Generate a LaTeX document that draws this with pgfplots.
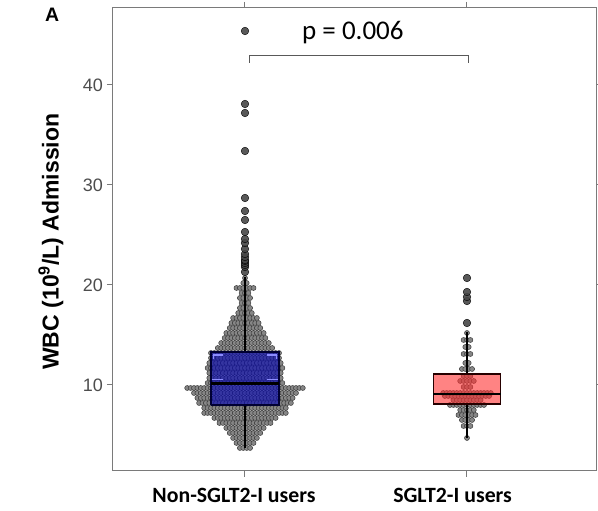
\documentclass[border=0pt]{standalone}
\usepackage{fontspec}
\setmainfont{Liberation Sans}
\newfontfamily\calibri{Carlito}
\usepackage{pgfplots}
\pgfplotsset{compat=1.18}
\definecolor{tickgray}{HTML}{4D4D4D}
\definecolor{framegray}{HTML}{7A7A7A}
\definecolor{dotfill}{HTML}{868686}
\definecolor{dotedge}{HTML}{3A3A3A}
\definecolor{nonbox}{HTML}{0000B4}
\definecolor{nonhigh}{HTML}{8C8CFF}
\definecolor{sgltbox}{HTML}{FF3030}

\begin{document}
\begin{tikzpicture}[x=1pt,y=1pt]
\useasboundingbox (-113,-40) rectangle (485,471);
\begin{axis}[
  name=ax, at={(0,0)}, anchor=south west,
  width=484pt, height=463pt, scale only axis,
  xmin=0.4054, xmax=2.5856, ymin=1.4, ymax=47.7,
  clip=false, clip marker paths=true,
  axis line style={framegray, line width=1pt},
  tick style={framegray, line width=1pt},
  tick align=outside, major tick length=6pt,
  xtick={1,2}, xticklabels={},
  ytick={10,20,30,40},
  /pgf/number format/assume math mode=true,
  yticklabel style={font=\fontsize{18}{18}\selectfont, text=tickgray, anchor=east, inner sep=0pt, xshift=-4pt},
]

% beeswarm of individual patients, non-SGLT2-I users (x in half dot spacings)
\addplot[only marks, mark=*, mark size=2.5pt,
  mark options={fill=dotfill, draw=dotedge, line width=0.5pt},
  x filter/.expression={1+0.00766*x}] coordinates {
(-3,3.7)(-1,3.7)(1,3.7)(3,3.7)
(-5,4.2)(-3,4.2)(-1,4.2)(1,4.2)(3,4.2)(5,4.2)
(-7,4.7)(-5,4.7)(-3,4.7)(-1,4.7)(1,4.7)(3,4.7)(5,4.7)(7,4.7)
(-9,5.2)(-7,5.2)(-5,5.2)(-3,5.2)(-1,5.2)(1,5.2)(3,5.2)(5,5.2)(7,5.2)(9,5.2)
(-11,5.7)(-9,5.7)(-7,5.7)(-5,5.7)(-3,5.7)(-1,5.7)(1,5.7)(3,5.7)(5,5.7)(7,5.7)(9,5.7)(11,5.7)
(-15,6.2)(-13,6.2)(-11,6.2)(-9,6.2)(-7,6.2)(-5,6.2)(-3,6.2)(-1,6.2)(1,6.2)(3,6.2)(5,6.2)(7,6.2)(9,6.2)(11,6.2)(13,6.2)(15,6.2)
(-18,6.7)(-16,6.7)(-14,6.7)(-12,6.7)(-10,6.7)(-8,6.7)(-6,6.7)(-4,6.7)(-2,6.7)(0,6.7)(2,6.7)(4,6.7)(6,6.7)(8,6.7)(10,6.7)(12,6.7)(14,6.7)(16,6.7)(18,6.7)
(-24,7.2)(-22,7.2)(-20,7.2)(-18,7.2)(-16,7.2)(-14,7.2)(-12,7.2)(-10,7.2)(-8,7.2)(-6,7.2)(-4,7.2)(-2,7.2)(0,7.2)(2,7.2)(4,7.2)(6,7.2)(8,7.2)(10,7.2)(12,7.2)(14,7.2)(16,7.2)(18,7.2)(20,7.2)(22,7.2)(24,7.2)
(-24,7.7)(-22,7.7)(-20,7.7)(-18,7.7)(-16,7.7)(-14,7.7)(-12,7.7)(-10,7.7)(-8,7.7)(-6,7.7)(-4,7.7)(-2,7.7)(0,7.7)(2,7.7)(4,7.7)(6,7.7)(8,7.7)(10,7.7)(12,7.7)(14,7.7)(16,7.7)(18,7.7)(20,7.7)(22,7.7)(24,7.7)
(-27,8.2)(-25,8.2)(-23,8.2)(-21,8.2)(-19,8.2)(-17,8.2)(-15,8.2)(-13,8.2)(-11,8.2)(-9,8.2)(-7,8.2)(-5,8.2)(-3,8.2)(-1,8.2)(1,8.2)(3,8.2)(5,8.2)(7,8.2)(9,8.2)(11,8.2)(13,8.2)(15,8.2)(17,8.2)(19,8.2)(21,8.2)(23,8.2)(25,8.2)(27,8.2)
(-28,8.7)(-26,8.7)(-24,8.7)(-22,8.7)(-20,8.7)(-18,8.7)(-16,8.7)(-14,8.7)(-12,8.7)(-10,8.7)(-8,8.7)(-6,8.7)(-4,8.7)(-2,8.7)(0,8.7)(2,8.7)(4,8.7)(6,8.7)(8,8.7)(10,8.7)(12,8.7)(14,8.7)(16,8.7)(18,8.7)(20,8.7)(22,8.7)(24,8.7)(26,8.7)(28,8.7)
(-30,9.2)(-28,9.2)(-26,9.2)(-24,9.2)(-22,9.2)(-20,9.2)(-18,9.2)(-16,9.2)(-14,9.2)(-12,9.2)(-10,9.2)(-8,9.2)(-6,9.2)(-4,9.2)(-2,9.2)(0,9.2)(2,9.2)(4,9.2)(6,9.2)(8,9.2)(10,9.2)(12,9.2)(14,9.2)(16,9.2)(18,9.2)(20,9.2)(22,9.2)(24,9.2)(26,9.2)(28,9.2)(30,9.2)
(-34,9.7)(-32,9.7)(-30,9.7)(-28,9.7)(-26,9.7)(-24,9.7)(-22,9.7)(-20,9.7)(-18,9.7)(-16,9.7)(-14,9.7)(-12,9.7)(-10,9.7)(-8,9.7)(-6,9.7)(-4,9.7)(-2,9.7)(0,9.7)(2,9.7)(4,9.7)(6,9.7)(8,9.7)(10,9.7)(12,9.7)(14,9.7)(16,9.7)(18,9.7)(20,9.7)(22,9.7)(24,9.7)(26,9.7)(28,9.7)(30,9.7)(32,9.7)(34,9.7)
(-22,10.2)(-20,10.2)(-18,10.2)(-16,10.2)(-14,10.2)(-12,10.2)(-10,10.2)(-8,10.2)(-6,10.2)(-4,10.2)(-2,10.2)(0,10.2)(2,10.2)(4,10.2)(6,10.2)(8,10.2)(10,10.2)(12,10.2)(14,10.2)(16,10.2)(18,10.2)(20,10.2)(22,10.2)
(-21,10.7)(-19,10.7)(-17,10.7)(-15,10.7)(-13,10.7)(-11,10.7)(-9,10.7)(-7,10.7)(-5,10.7)(-3,10.7)(-1,10.7)(1,10.7)(3,10.7)(5,10.7)(7,10.7)(9,10.7)(11,10.7)(13,10.7)(15,10.7)(17,10.7)(19,10.7)(21,10.7)
(-21,11.2)(-19,11.2)(-17,11.2)(-15,11.2)(-13,11.2)(-11,11.2)(-9,11.2)(-7,11.2)(-5,11.2)(-3,11.2)(-1,11.2)(1,11.2)(3,11.2)(5,11.2)(7,11.2)(9,11.2)(11,11.2)(13,11.2)(15,11.2)(17,11.2)(19,11.2)(21,11.2)
(-22,11.7)(-20,11.7)(-18,11.7)(-16,11.7)(-14,11.7)(-12,11.7)(-10,11.7)(-8,11.7)(-6,11.7)(-4,11.7)(-2,11.7)(0,11.7)(2,11.7)(4,11.7)(6,11.7)(8,11.7)(10,11.7)(12,11.7)(14,11.7)(16,11.7)(18,11.7)(20,11.7)(22,11.7)
(-21,12.2)(-19,12.2)(-17,12.2)(-15,12.2)(-13,12.2)(-11,12.2)(-9,12.2)(-7,12.2)(-5,12.2)(-3,12.2)(-1,12.2)(1,12.2)(3,12.2)(5,12.2)(7,12.2)(9,12.2)(11,12.2)(13,12.2)(15,12.2)(17,12.2)(19,12.2)(21,12.2)
(-20,12.7)(-18,12.7)(-16,12.7)(-14,12.7)(-12,12.7)(-10,12.7)(-8,12.7)(-6,12.7)(-4,12.7)(-2,12.7)(0,12.7)(2,12.7)(4,12.7)(6,12.7)(8,12.7)(10,12.7)(12,12.7)(14,12.7)(16,12.7)(18,12.7)(20,12.7)
(-20,13.2)(-18,13.2)(-16,13.2)(-14,13.2)(-12,13.2)(-10,13.2)(-8,13.2)(-6,13.2)(-4,13.2)(-2,13.2)(0,13.2)(2,13.2)(4,13.2)(6,13.2)(8,13.2)(10,13.2)(12,13.2)(14,13.2)(16,13.2)(18,13.2)(20,13.2)
(-16,13.7)(-14,13.7)(-12,13.7)(-10,13.7)(-8,13.7)(-6,13.7)(-4,13.7)(-2,13.7)(0,13.7)(2,13.7)(4,13.7)(6,13.7)(8,13.7)(10,13.7)(12,13.7)(14,13.7)(16,13.7)
(-14,14.2)(-12,14.2)(-10,14.2)(-8,14.2)(-6,14.2)(-4,14.2)(-2,14.2)(0,14.2)(2,14.2)(4,14.2)(6,14.2)(8,14.2)(10,14.2)(12,14.2)(14,14.2)
(-12,14.7)(-10,14.7)(-8,14.7)(-6,14.7)(-4,14.7)(-2,14.7)(0,14.7)(2,14.7)(4,14.7)(6,14.7)(8,14.7)(10,14.7)(12,14.7)
(-11,15.2)(-9,15.2)(-7,15.2)(-5,15.2)(-3,15.2)(-1,15.2)(1,15.2)(3,15.2)(5,15.2)(7,15.2)(9,15.2)(11,15.2)
(-9,15.7)(-7,15.7)(-5,15.7)(-3,15.7)(-1,15.7)(1,15.7)(3,15.7)(5,15.7)(7,15.7)(9,15.7)
(-8,16.2)(-6,16.2)(-4,16.2)(-2,16.2)(0,16.2)(2,16.2)(4,16.2)(6,16.2)(8,16.2)
(-7,16.7)(-5,16.7)(-3,16.7)(-1,16.7)(1,16.7)(3,16.7)(5,16.7)(7,16.7)
(-4,17.2)(-2,17.2)(0,17.2)(2,17.2)(4,17.2)
(-3,17.7)(-1,17.7)(1,17.7)(3,17.7)
(-2,18.2)(0,18.2)(2,18.2)
(-3,18.7)(-1,18.7)(1,18.7)(3,18.7)
(-2,19.2)(0,19.2)(2,19.2)
(-5,19.7)(-3,19.7)(-1,19.7)(1,19.7)(3,19.7)(5,19.7)
(-1,20.2)(1,20.2)
(0,20.7)
};

% beeswarm of individual patients, SGLT2-I users
\addplot[only marks, mark=*, mark size=2.5pt,
  mark options={fill=dotfill, draw=dotedge, line width=0.5pt},
  x filter/.expression={2+0.00766*x}] coordinates {
(0,4.7)
(-2,5.9)(0,5.9)(2,5.9)
(-3,6.5)(-1,6.5)(1,6.5)(3,6.5)
(-5,7.0)(-3,7.0)(-1,7.0)(1,7.0)(3,7.0)(5,7.0)
(-4,7.5)(-2,7.5)(0,7.5)(2,7.5)(4,7.5)
(-10,8.0)(-8,8.0)(-6,8.0)(-4,8.0)(-2,8.0)(0,8.0)(2,8.0)(4,8.0)(6,8.0)(8,8.0)(10,8.0)
(-8,8.5)(-6,8.5)(-4,8.5)(-2,8.5)(0,8.5)(2,8.5)(4,8.5)(6,8.5)(8,8.5)
(-13,8.9)(-11,8.9)(-9,8.9)(-7,8.9)(-5,8.9)(-3,8.9)(-1,8.9)(1,8.9)(3,8.9)(5,8.9)(7,8.9)(9,8.9)(11,8.9)(13,8.9)
(-14,9.2)(-12,9.2)(-10,9.2)(-8,9.2)(-6,9.2)(-4,9.2)(-2,9.2)(0,9.2)(2,9.2)(4,9.2)(6,9.2)(8,9.2)(10,9.2)(12,9.2)(14,9.2)
(-2,9.8)(0,9.8)(2,9.8)
(-4,10.4)(-2,10.4)(0,10.4)(2,10.4)(4,10.4)
(-2,10.9)(0,10.9)(2,10.9)
(-3,11.6)(-1,11.6)(1,11.6)(3,11.6)
(-1,12.2)(1,12.2)
(-2,13.1)(0,13.1)(2,13.1)
(-1,13.8)(1,13.8)
(-2,14.5)(0,14.5)(2,14.5)
(0,15.2)
};

% whiskers (lower whisker to Q1, Q3 to upper whisker)
\addplot[mark=none, draw=black, line width=1.2pt] coordinates {(1,3.7) (1,8.0)};
\addplot[mark=none, draw=black, line width=1.2pt] coordinates {(1,13.3) (1,20.8)};
\addplot[mark=none, draw=black, line width=1.2pt] coordinates {(2,4.7) (2,8.1)};
\addplot[mark=none, draw=black, line width=1.2pt] coordinates {(2,11.1) (2,15.3)};

% interquartile boxes
\addplot[mark=none, draw=black!80!blue, line width=1.1pt, fill=nonbox, fill opacity=0.6]
  coordinates {(0.847,8.0) (1.153,8.0) (1.153,13.3) (0.847,13.3) (0.847,8.0)};
\addplot[mark=none, draw=black!85!red, line width=1.1pt, fill=sgltbox, fill opacity=0.6]
  coordinates {(1.848,8.1) (2.152,8.1) (2.152,11.1) (1.848,11.1) (1.848,8.1)};

% lighter inner edges of the blue box
\addplot[mark=none, draw=nonhigh, line width=1.6pt] coordinates {(0.858,12.6) (0.858,13.0) (0.90,13.0)};
\addplot[mark=none, draw=nonhigh, line width=1.6pt] coordinates {(1.142,12.6) (1.142,13.0) (1.10,13.0)};
\addplot[mark=none, draw=nonhigh, line width=1.6pt] coordinates {(0.85,10.55) (0.90,10.55)};
\addplot[mark=none, draw=nonhigh, line width=1.6pt] coordinates {(1.10,10.55) (1.15,10.55)};

% medians
\addplot[mark=none, draw=black, line width=2.6pt] coordinates {(0.847,10.15) (1.153,10.15)};
\addplot[mark=none, draw=black, line width=2.6pt] coordinates {(1.848,9.1) (2.152,9.1)};

% outliers beyond the whiskers
\addplot[only marks, mark=*, mark size=3.8pt,
  mark options={fill=black!72, draw=none, fill opacity=0.9}] coordinates {
(1,21.3)(1,21.8)(1,22.0)(1,22.2)(1,22.4)(1,22.5)(1,22.8)(1,23.1)(1,23.6)(1,24.2)
(1,24.6)(1,25.3)(1,26.5)(1,27.4)(1,28.7)(1,33.4)(1,37.2)(1,38.1)(1,45.4)
(2,16.2)(2,18.4)(2,18.8)(2,19.3)(2,20.7)
};

% significance bracket
\addplot[mark=none, color=black!65, line width=1pt] coordinates {
(1.02,42.2) (1.02,42.93) (2.006,42.93) (2.006,42.2)};
\node[font=\calibri\fontsize{27}{27}\selectfont] at (axis cs:1.486,45.2) {p = 0.006};

% category labels
\node[anchor=base, font=\calibri\bfseries\fontsize{21.8}{22}\selectfont]
  at ([xshift=-11pt,yshift=-32pt]axis cs:1,1.4) {Non-SGLT2-I users};
\node[anchor=base, font=\calibri\bfseries\fontsize{21.8}{22}\selectfont]
  at ([xshift=-14.4pt,yshift=-32pt]axis cs:2,1.4) {SGLT2-I users};

% y axis title and panel letter
\node[rotate=90, font=\bfseries\fontsize{23}{24}\selectfont]
  at ([xshift=-62pt]axis cs:0.4054,24.33) {WBC (10\textsuperscript{9}/L) Admission};
\node[anchor=north west, inner sep=0pt, font=\bfseries\fontsize{19.5}{20}\selectfont]
  at ([xshift=-68pt]axis cs:0.4054,47.7) {A};
\end{axis}
\end{tikzpicture}
\end{document}
